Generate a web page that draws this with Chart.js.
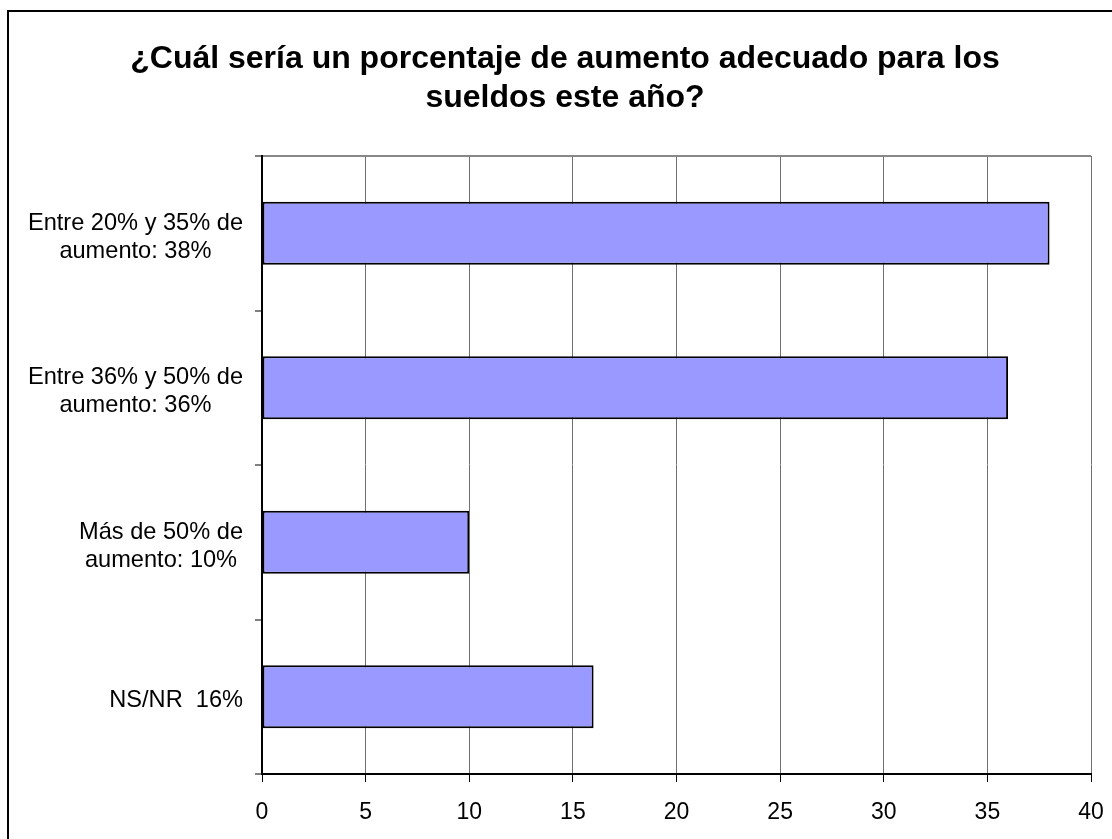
<!DOCTYPE html>
<html>
<head>
<meta charset="utf-8">
<script src="https://cdn.jsdelivr.net/npm/chart.js@4.4.1/dist/chart.umd.min.js"></script>
<style>
  html, body { margin: 0; padding: 0; background: #fff; overflow: hidden; }
  #wrap { position: relative; width: 1112px; height: 839px; overflow: hidden; }
  #frame { position: absolute; left: 7px; top: 10px; width: 1300px; height: 1000px; border: 2px solid #000; pointer-events: none; }
  canvas { position: absolute; left: 0; top: 0; }
</style>
</head>
<body>
<div id="wrap">
  <canvas id="c" width="1112" height="839"></canvas>
  <div id="frame"></div>
</div>
<script>
const titleLines = ['¿Cuál sería un porcentaje de aumento adecuado para los', 'sueldos este año?'];
const categoryLines = [
  ['Entre 20% y 35% de', 'aumento: 38%'],
  ['Entre 36% y 50% de', 'aumento: 36%'],
  ['Más de 50% de', 'aumento: 10%'],
  ['NS/NR  16%']
];
const categories = categoryLines.map(l => l.join(' '));
const values = [38, 36, 10, 16];
const xMin = 0, xMax = 40, xStep = 5;

const FONT = '"Liberation Sans", Arial, sans-serif';

const yLabelPlugin = {
  id: 'yLabels',
  afterDraw(chart) {
    const ctx = chart.ctx;
    const ys = chart.scales.y;
    ctx.save();
    ctx.font = '23.6px ' + FONT;
    ctx.fillStyle = '#000';
    ctx.textBaseline = 'middle';
    ctx.textAlign = 'center';
    const rightEdge = ys.right - 19;
    categoryLines.forEach((lines, i) => {
      const cy = ys.getPixelForValue(i) + 4;
      const w = Math.max(...lines.map(l => ctx.measureText(l).width));
      const cx = rightEdge - w / 2;
      lines.forEach((l, j) => {
        ctx.fillText(l, cx, cy + (j - (lines.length - 1) / 2) * 28);
      });
    });
    ctx.restore();
  }
};

new Chart(document.getElementById('c'), {
  type: 'bar',
  data: {
    labels: categories,
    datasets: [{
      data: values,
      backgroundColor: '#9999FF',
      borderColor: '#000',
      borderWidth: 2,
      borderSkipped: false,
      categoryPercentage: 1,
      barPercentage: 0.408
    }]
  },
  options: {
    indexAxis: 'y',
    responsive: false,
    animation: false,
    devicePixelRatio: 1,
    layout: { padding: { left: 18, right: 0, top: 0, bottom: 0 } },
    plugins: {
      legend: { display: false },
      tooltip: { enabled: false },
      title: {
        display: true,
        text: titleLines,
        color: '#000',
        font: { family: FONT, size: 32, weight: 'bold', lineHeight: 39 / 32 },
        padding: { top: 40, bottom: 38 }
      }
    },
    scales: {
      x: {
        type: 'linear',
        position: 'bottom',
        min: xMin,
        max: xMax,
        afterFit(scale) { scale.height = 65; scale.paddingRight = 21; scale.paddingLeft = 0; },
        ticks: { stepSize: xStep, color: '#000', font: { family: FONT, size: 23 }, padding: 17, maxRotation: 0 },
        grid: {
          color: ctx => (ctx.index === 0 ? 'rgba(0,0,0,0)' : '#707070'),
          lineWidth: 1,
          tickColor: '#000',
          tickLength: 8,
          tickWidth: 1
        },
        border: { color: '#000', width: 2 }
      },
      y: {
        type: 'category',
        position: 'left',
        offset: true,
        afterFit(scale) { scale.width = 244; },
        ticks: { display: false },
        grid: {
          offset: true,
          drawOnChartArea: true,
          color: ctx => (ctx.index === 0 ? '#888' : 'rgba(0,0,0,0)'),
          lineWidth: 2,
          tickColor: '#000',
          tickLength: 7,
          tickWidth: 1
        },
        border: { color: '#000', width: 2 }
      }
    }
  },
  plugins: [yLabelPlugin]
});
</script>
</body>
</html>
